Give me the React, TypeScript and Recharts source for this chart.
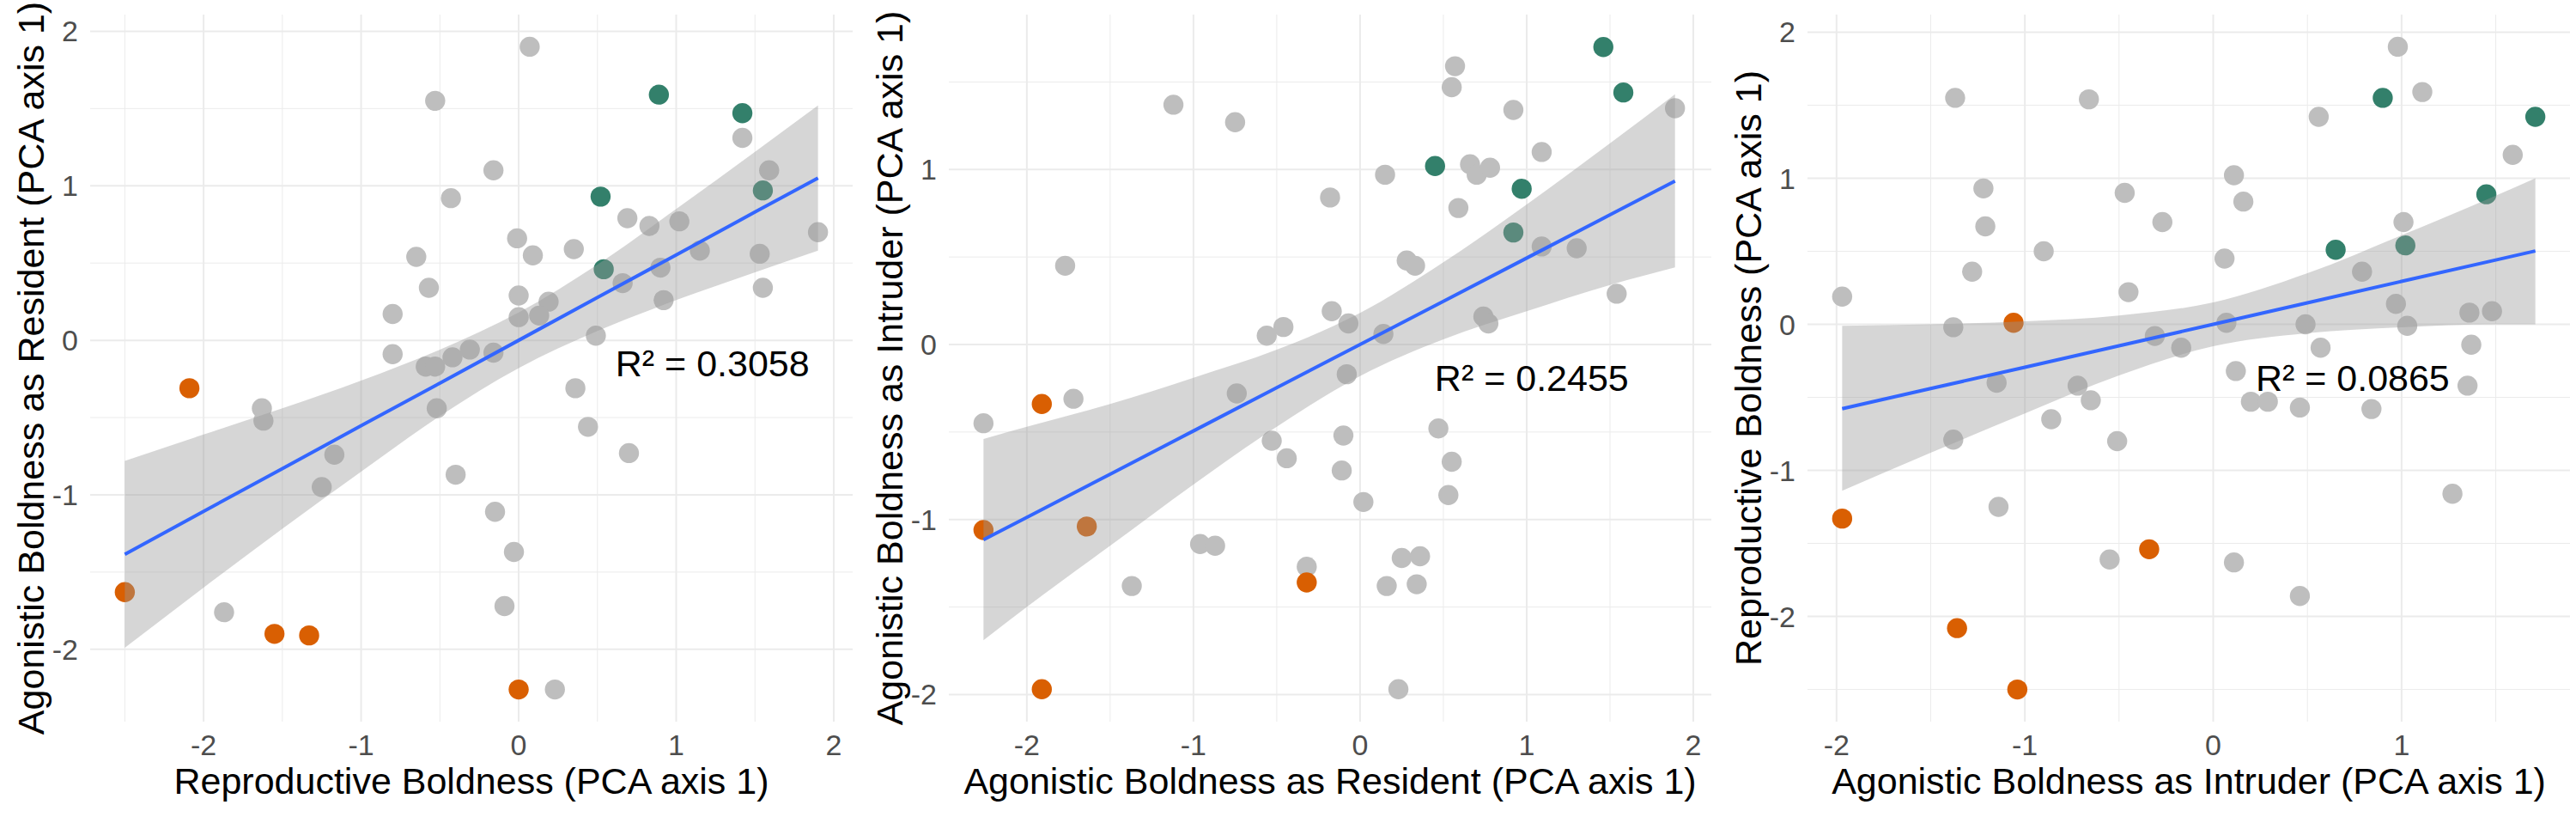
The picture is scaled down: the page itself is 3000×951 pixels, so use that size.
import {
  Area,
  CartesianGrid,
  ComposedChart,
  Label,
  Line,
  Scatter,
  XAxis,
  YAxis,
} from "recharts";

type Pt = [number, number];

// Panel 1: reproductive (x) vs agonistic as resident (y)
const P1_GRAY: Pt[] = [
  [0.07, 1.9], [-0.53, 1.55], [-0.16, 1.1], [-0.43, 0.92], [1.42, 1.31], [1.59, 1.1],
  [0.69, 0.79], [0.83, 0.74], [1.02, 0.77], [1.9, 0.7], [-0.01, 0.66], [0.09, 0.55],
  [0.35, 0.59], [1.15, 0.58], [1.53, 0.56], [-0.65, 0.54], [-0.57, 0.34], [1.55, 0.34],
  [0.9, 0.47], [0.66, 0.37], [0.0, 0.29], [0.19, 0.25], [0.92, 0.26], [0.0, 0.15],
  [0.13, 0.16], [-0.8, 0.17], [0.49, 0.03], [-0.8, -0.09], [-0.59, -0.17], [-0.53, -0.17],
  [-0.42, -0.11], [-0.31, -0.06], [-0.16, -0.08], [0.36, -0.31], [-0.52, -0.44], [-1.63, -0.44],
  [-1.62, -0.52], [0.44, -0.56], [-1.17, -0.74], [0.7, -0.73], [-0.4, -0.87], [-1.25, -0.95],
  [-0.15, -1.11], [-0.03, -1.37], [-0.09, -1.72], [-1.87, -1.76], [0.23, -2.26],
];
const P1_ORANGE: Pt[] = [[-2.09, -0.31], [-2.5, -1.63], [-1.55, -1.9], [-1.33, -1.91], [0.0, -2.26]];
const P1_GREEN: Pt[] = [[0.89, 1.59], [1.42, 1.47], [0.52, 0.93], [1.55, 0.97], [0.54, 0.46]];
const P1_BAND_X = [-2.5, -2, -1.5, -1, -0.5, 0, 0.5, 1, 1.5, 1.9];
const P1_FIT = [-1.385, -1.107, -0.83, -0.553, -0.277, 0, 0.277, 0.553, 0.83, 1.05];
const P1_LO = [-1.99, -1.6, -1.22, -0.85, -0.49, -0.18, 0.06, 0.26, 0.44, 0.58];
const P1_HI = [-0.78, -0.61, -0.44, -0.26, -0.06, 0.18, 0.49, 0.85, 1.22, 1.52];

// Panel 2: agonistic as resident (x) vs agonistic as intruder (y)
const P2_GRAY: Pt[] = [
  [0.57, 1.59], [0.55, 1.47], [-1.12, 1.37], [0.92, 1.34], [1.89, 1.35], [-0.75, 1.27],
  [1.09, 1.1], [0.66, 1.03], [0.7, 0.97], [0.78, 1.01], [0.15, 0.97], [-0.18, 0.84],
  [0.59, 0.78], [1.09, 0.56], [1.3, 0.55], [0.28, 0.48], [0.33, 0.45], [-1.77, 0.45],
  [1.54, 0.29], [-0.17, 0.19], [-0.07, 0.12], [-0.46, 0.1], [-0.56, 0.05], [0.14, 0.06],
  [0.74, 0.16], [0.77, 0.12], [-0.08, -0.17], [-0.74, -0.28], [-1.72, -0.31], [-2.26, -0.45],
  [0.47, -0.48], [-0.1, -0.52], [-0.53, -0.55], [0.55, -0.67], [-0.44, -0.65], [-0.11, -0.72],
  [0.53, -0.86], [0.02, -0.9], [-0.96, -1.14], [-0.87, -1.15], [-0.32, -1.27], [0.25, -1.22],
  [0.36, -1.21], [-1.37, -1.38], [0.16, -1.38], [0.34, -1.37], [0.23, -1.97],
];
const P2_ORANGE: Pt[] = [[-1.91, -0.34], [-2.26, -1.06], [-1.64, -1.04], [-0.32, -1.36], [-1.91, -1.97]];
const P2_GREEN: Pt[] = [[1.46, 1.7], [1.58, 1.44], [0.45, 1.02], [0.97, 0.89], [0.92, 0.64]];
const P2_BAND_X = [-2.26, -2, -1.5, -1, -0.5, 0, 0.5, 1, 1.5, 1.89];
const P2_FIT = [-1.116, -0.988, -0.741, -0.494, -0.247, 0, 0.247, 0.494, 0.741, 0.934];
const P2_LO = [-1.69, -1.5, -1.15, -0.8, -0.47, -0.18, 0.03, 0.19, 0.34, 0.44];
const P2_HI = [-0.54, -0.47, -0.34, -0.19, -0.03, 0.18, 0.47, 0.8, 1.15, 1.43];

// Panel 3: agonistic as intruder (x) vs reproductive (y)
const P3_GRAY: Pt[] = [
  [0.98, 1.9], [1.11, 1.59], [-1.37, 1.55], [-0.66, 1.54], [0.56, 1.42], [1.59, 1.16],
  [0.11, 1.02], [-1.22, 0.93], [-0.47, 0.9], [0.16, 0.84], [-1.21, 0.67], [-0.27, 0.7],
  [1.01, 0.7], [-0.9, 0.5], [-1.28, 0.36], [0.06, 0.45], [0.79, 0.36], [-1.97, 0.19],
  [-0.45, 0.22], [0.97, 0.14], [1.36, 0.08], [1.48, 0.09], [-1.38, -0.02], [0.07, 0.01],
  [0.49, 0.0], [1.03, -0.01], [-0.31, -0.08], [-0.17, -0.16], [0.57, -0.16], [1.37, -0.14],
  [0.12, -0.32], [-1.15, -0.4], [-0.72, -0.42], [1.35, -0.42], [-0.65, -0.52], [0.2, -0.53],
  [0.29, -0.53], [0.46, -0.57], [0.84, -0.58], [-0.86, -0.65], [-1.38, -0.79], [-0.51, -0.8],
  [1.27, -1.16], [-1.14, -1.25], [-0.55, -1.61], [0.11, -1.63], [0.46, -1.86],
];
const P3_ORANGE: Pt[] = [[-1.06, 0.01], [-1.97, -1.33], [-0.34, -1.54], [-1.36, -2.08], [-1.04, -2.5]];
const P3_GREEN: Pt[] = [[0.9, 1.55], [1.71, 1.42], [1.45, 0.89], [0.65, 0.51], [1.02, 0.54]];
const P3_BAND_X = [-1.97, -1.5, -1, -0.5, 0, 0.5, 1, 1.5, 1.71];
const P3_FIT = [-0.578, -0.44, -0.294, -0.147, 0, 0.147, 0.294, 0.44, 0.502];
const P3_LO = [-1.14, -0.88, -0.61, -0.35, -0.15, -0.06, -0.02, 0.0, 0.0];
const P3_HI = [-0.01, 0.0, 0.02, 0.06, 0.15, 0.35, 0.61, 0.88, 1.0];

const FONT = '"Liberation Sans", Arial, Helvetica, sans-serif';
const GRAY = "#BEBEBE";
const ORANGE = "#D95F02";
const GREEN = "#33806B";
const GRID = "#EBEBEB";
const TITLE_SIZE = 43;

type PanelProps = {
  gray: Pt[];
  orange: Pt[];
  green: Pt[];
  bandX: number[];
  fit: number[];
  lo: number[];
  hi: number[];
  xDomain: [number, number];
  yDomain: [number, number];
  xTicks: number[];
  yTicks: number[];
  xMinor: number[];
  yMinor: number[];
  xTitle: string;
  yTitle: string;
  r2: string;
  r2At: Pt;
};

const toRows = (pts: Pt[]) => pts.map(([x, y]) => ({ x, y }));

const dot = (fill: string) => (p: any) => <circle cx={p.cx} cy={p.cy} r={11.7} fill={fill} />;

function Panel(props: PanelProps) {
  const band = props.bandX.map((x, i) => ({
    x,
    fit: props.fit[i],
    band: [props.lo[i], props.hi[i]],
  }));
  const tick = { fontSize: 34, fill: "#4D4D4D", fontFamily: FONT };
  return (
    <ComposedChart
      width={1000}
      height={951}
      data={band}
      margin={{ top: 17, right: 7, bottom: 0, left: 0 }}
    >
      <CartesianGrid
        stroke={GRID}
        strokeWidth={1}
        verticalValues={props.xMinor}
        horizontalValues={props.yMinor}
      />
      <CartesianGrid
        stroke={GRID}
        strokeWidth={2}
        verticalValues={props.xTicks}
        horizontalValues={props.yTicks}
      />
      <XAxis
        type="number"
        dataKey="x"
        domain={props.xDomain}
        ticks={props.xTicks}
        allowDataOverflow
        axisLine={false}
        tickLine={false}
        tickSize={0}
        tickMargin={15}
        height={111}
        tick={tick}
        interval={0}
      >
        <Label
          content={(lp: any) => (
            <text
              x={lp.viewBox.x + lp.viewBox.width / 2}
              y={924}
              textAnchor="middle"
              fontSize={TITLE_SIZE}
              fontFamily={FONT}
              fill="#000"
            >
              {props.xTitle}
            </text>
          )}
        />
      </XAxis>
      <YAxis
        type="number"
        domain={props.yDomain}
        ticks={props.yTicks}
        allowDataOverflow
        axisLine={false}
        tickLine={false}
        tickSize={0}
        tickMargin={14}
        width={105}
        tick={tick}
        interval={0}
      >
        <Label
          content={(lp: any) => {
            const cy = lp.viewBox.y + lp.viewBox.height / 2;
            return (
              <text
                x={36}
                y={cy}
                transform={`rotate(-90 36 ${cy})`}
                textAnchor="middle"
                dominantBaseline="central"
                fontSize={TITLE_SIZE}
                fontFamily={FONT}
                fill="#000"
              >
                {props.yTitle}
              </text>
            );
          }}
        />
      </YAxis>
      <Scatter data={toRows(props.gray)} dataKey="y" shape={dot(GRAY)} isAnimationActive={false} zIndex={50} />
      <Scatter data={toRows(props.orange)} dataKey="y" shape={dot(ORANGE)} isAnimationActive={false} zIndex={51} />
      <Scatter data={toRows(props.green)} dataKey="y" shape={dot(GREEN)} isAnimationActive={false} zIndex={52} />
      <Area
        type="monotone"
        dataKey="band"
        stroke="none"
        fill="#999999"
        fillOpacity={0.4}
        dot={false}
        activeDot={false}
        isAnimationActive={false}
        zIndex={100}
      />
      <Line
        type="linear"
        dataKey="fit"
        stroke="#3366FF"
        strokeWidth={4}
        dot={false}
        activeDot={false}
        isAnimationActive={false}
        zIndex={400}
      />
      <Scatter
        data={[{ x: props.r2At[0], y: props.r2At[1] }]}
        dataKey="y"
        isAnimationActive={false}
        zIndex={700}
        shape={(p: any) => (
          <text
            x={p.cx}
            y={p.cy + 15}
            textAnchor="middle"
            fontSize={TITLE_SIZE}
            fontFamily={FONT}
            fill="#000"
          >
            {props.r2}
          </text>
        )}
      />
    </ComposedChart>
  );
}

export default function App() {
  return (
    <div
      style={{
        position: "absolute",
        left: 0,
        top: 0,
        width: 3000,
        height: 951,
        background: "#fff",
        display: "flex",
      }}
    >
      <Panel
        gray={P1_GRAY}
        orange={P1_ORANGE}
        green={P1_GREEN}
        bandX={P1_BAND_X}
        fit={P1_FIT}
        lo={P1_LO}
        hi={P1_HI}
        xDomain={[-2.72, 2.12]}
        yDomain={[-2.468, 2.108]}
        xTicks={[-2, -1, 0, 1, 2]}
        yTicks={[-2, -1, 0, 1, 2]}
        xMinor={[-2.5, -1.5, -0.5, 0.5, 1.5]}
        yMinor={[-1.5, -0.5, 0.5, 1.5]}
        xTitle="Reproductive Boldness (PCA axis 1)"
        yTitle="Agonistic Boldness as Resident (PCA axis 1)"
        r2="R² = 0.3058"
        r2At={[1.23, -0.15]}
      />
      <Panel
        gray={P2_GRAY}
        orange={P2_ORANGE}
        green={P2_GREEN}
        bandX={P2_BAND_X}
        fit={P2_FIT}
        lo={P2_LO}
        hi={P2_HI}
        xDomain={[-2.468, 2.108]}
        yDomain={[-2.155, 1.885]}
        xTicks={[-2, -1, 0, 1, 2]}
        yTicks={[-2, -1, 0, 1]}
        xMinor={[-1.5, -0.5, 0.5, 1.5]}
        yMinor={[-1.5, -0.5, 0.5, 1.5]}
        xTitle="Agonistic Boldness as Resident (PCA axis 1)"
        yTitle="Agonistic Boldness as Intruder (PCA axis 1)"
        r2="R² = 0.2455"
        r2At={[1.03, -0.19]}
      />
      <Panel
        gray={P3_GRAY}
        orange={P3_ORANGE}
        green={P3_GREEN}
        bandX={P3_BAND_X}
        fit={P3_FIT}
        lo={P3_LO}
        hi={P3_HI}
        xDomain={[-2.154, 1.894]}
        yDomain={[-2.72, 2.12]}
        xTicks={[-2, -1, 0, 1]}
        yTicks={[-2, -1, 0, 1, 2]}
        xMinor={[-1.5, -0.5, 0.5, 1.5]}
        yMinor={[-2.5, -1.5, -0.5, 0.5, 1.5]}
        xTitle="Agonistic Boldness as Intruder (PCA axis 1)"
        yTitle="Reproductive Boldness (PCA axis 1)"
        r2="R² = 0.0865"
        r2At={[0.74, -0.37]}
      />
    </div>
  );
}
